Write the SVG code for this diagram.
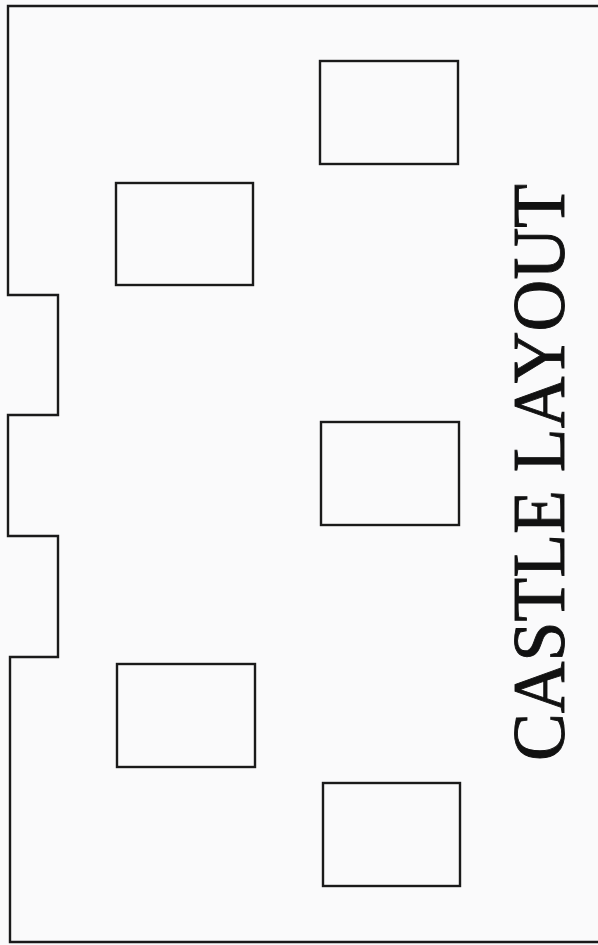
<svg xmlns="http://www.w3.org/2000/svg" width="598" height="945" viewBox="0 0 598 945">
  <style>
    .wall { fill: none; stroke: #1a1a1a; stroke-width: 2.4; stroke-linejoin: miter; }
    .room { fill: none; stroke: #1a1a1a; stroke-width: 2.4; }
    .title { font-family: "Liberation Serif", "Times New Roman", serif; font-size: 73px; fill: #111111; stroke: #111111; stroke-width: 0.9; }
  </style>
  <rect x="0" y="0" width="598" height="945" fill="#fafafb"/>
  <g id="castle-wall">
    <path class="wall" d="M598,6 L8,6 L8,295 L58,295 L58,415 L8,415 L8,536 L58,536 L58,657 L10,657 L10,942 L598,942"/>
  </g>
  <g id="room-top-right"><rect class="room" x="320" y="61" width="138" height="103"/></g>
  <g id="room-top-left"><rect class="room" x="116" y="183" width="137" height="102"/></g>
  <g id="room-mid-right"><rect class="room" x="321" y="422" width="138" height="103"/></g>
  <g id="room-bottom-left"><rect class="room" x="117" y="664" width="138" height="103"/></g>
  <g id="room-bottom-right"><rect class="room" x="323" y="783" width="137" height="103"/></g>
  <g id="connectors"></g>
  <g id="title">
    <text class="title" transform="translate(564,761) rotate(-90)" x="0" y="0" textLength="577" lengthAdjust="spacingAndGlyphs">CASTLE LAYOUT</text>
  </g>
</svg>
